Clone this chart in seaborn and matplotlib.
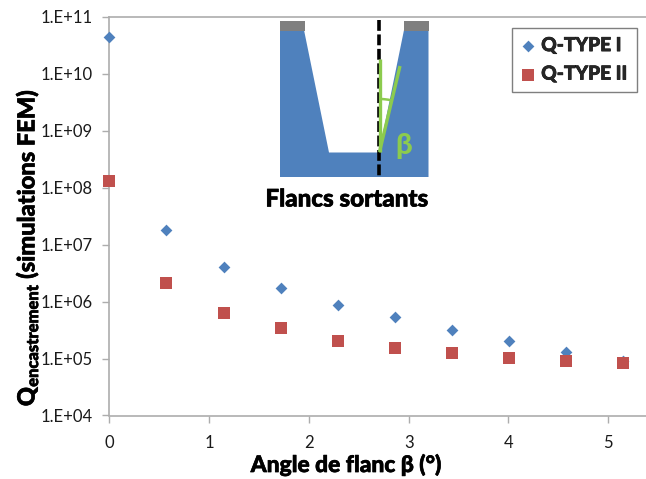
import matplotlib
matplotlib.use("Agg")
import matplotlib.pyplot as plt
import matplotlib.patheffects as pe
from matplotlib.patches import Polygon, Rectangle, Arc
from matplotlib.ticker import FixedLocator, FixedFormatter, NullLocator
import pandas as pd
import seaborn as sns

angles = [0, 0.57, 1.145, 1.72, 2.29, 2.865, 3.44, 4.01, 4.58, 5.15]
q_type_1 = [4.5e10, 1.8e7, 4.1e6, 1.75e6, 8.7e5, 5.4e5, 3.2e5, 2.0e5, 1.28e5, 9.0e4]
q_type_2 = [1.3e8, 2.1e6, 6.2e5, 3.4e5, 2.05e5, 1.55e5, 1.26e5, 1.03e5, 9.1e4, 8.2e4]
x_ticks = [0, 1, 2, 3, 4, 5]
y_ticks = [1e4, 1e5, 1e6, 1e7, 1e8, 1e9, 1e10, 1e11]
y_labels = ["1.E+04", "1.E+05", "1.E+06", "1.E+07", "1.E+08", "1.E+09", "1.E+10", "1.E+11"]
series_names = ["Q-TYPE I", "Q-TYPE II"]

W, H = 646, 479
FONT = "Lato"
HEAVY = 900
sns.set_theme(style="white")
plt.rcParams["font.family"] = [FONT, "DejaVu Sans"]
plt.rcParams["mathtext.fontset"] = "custom"
plt.rcParams["mathtext.bf"] = f"{FONT}:weight=900"
plt.rcParams["mathtext.rm"] = FONT
BLUE, RED, AXIS, GREEN = "#4F81BD", "#C0504D", "#ADADAD", "#8CCB4E"
THICKEN = [pe.withStroke(linewidth=0.45, foreground="black")]

fig = plt.figure(figsize=(W / 100, H / 100), dpi=100, facecolor="white")
ax = fig.add_axes([109.5 / W, 1 - 415.5 / H, (W - 109.5) / W, (415.5 - 17) / H])

df = pd.DataFrame({
    "angle": angles * 2,
    "q": q_type_1 + q_type_2,
    "series": [series_names[0]] * len(angles) + [series_names[1]] * len(angles),
})
sns.scatterplot(data=df[df.series == series_names[0]], x="angle", y="q", ax=ax, marker="D",
                color=BLUE, s=36, linewidth=0, clip_on=False, zorder=3, label=series_names[0])
sns.scatterplot(data=df[df.series == series_names[1]], x="angle", y="q", ax=ax, marker="s",
                color=RED, s=66, linewidth=0, clip_on=False, zorder=4, label=series_names[1])

ax.set_yscale("log")
ax.set_xlim(0, (W - 109.5) / 99.7)
ax.set_ylim(1e4, 1e11)
ax.xaxis.set_major_locator(FixedLocator(x_ticks))
ax.yaxis.set_major_locator(FixedLocator(y_ticks))
ax.yaxis.set_major_formatter(FixedFormatter(y_labels))
ax.yaxis.set_minor_locator(NullLocator())
ax.tick_params(axis="both", length=5, width=1, color=AXIS, labelsize=12, labelcolor="#1a1a1a", pad=7, left=True, bottom=True)
ax.tick_params(axis="x", pad=9)
for name in ("left", "bottom", "top"):
    ax.spines[name].set_color(AXIS)
    ax.spines[name].set_linewidth(1.2)
ax.spines["right"].set_visible(False)
ax.set_xlabel("")
ax.set_ylabel("")

fig.text(346 / W, 1 - 465 / H, "Angle de flanc β (°)", fontsize=16.4, fontweight=HEAVY, ha="center", va="center",
         color="black", path_effects=THICKEN)
fig.text(27 / W, 1 - 247.5 / H, r"$\mathbf{Q_{encastrement}}$ (simulations FEM)", fontsize=17, fontweight=HEAVY,
         rotation=90, ha="center", va="center", color="black", path_effects=THICKEN)

handles, labels = ax.get_legend_handles_labels()
leg = ax.legend(handles, labels, loc="upper left", bbox_to_anchor=((511.5 - 109.5) / (W - 109.5), 1 - (27.5 - 17) / (415.5 - 17)),
                fancybox=False, framealpha=1, edgecolor="#7F7F7F", borderpad=0.5, labelspacing=0.6,
                handlelength=0.75, handletextpad=0.3, prop={"family": FONT, "weight": HEAVY, "size": 13.8}, borderaxespad=0)
leg.get_frame().set_linewidth(1)
for t in leg.get_texts():
    t.set_path_effects(THICKEN)

# inset schematic, drawn on an overlay in pixel coordinates
ov = fig.add_axes([0, 0, 1, 1], facecolor="none")
ov.set_xlim(0, W)
ov.set_ylim(H, 0)
ov.axis("off")
ov.add_patch(Polygon([(280, 30), (304, 30), (329, 152.5), (379, 152.5), (404, 30), (428.5, 30), (428.5, 177), (280, 177)],
                     closed=True, facecolor=BLUE, edgecolor="none"))
ov.add_patch(Rectangle((279.5, 20.5), 25, 10, facecolor="#7F7F7F", edgecolor="none"))
ov.add_patch(Rectangle((404, 20.5), 25, 10, facecolor="#7F7F7F", edgecolor="none"))
ov.plot([379, 379], [20, 178], color="black", lw=2.6, ls=(0, (3.0, 1.0)), zorder=3)
ov.plot([379.5, 379.5], [152, 59], color=GREEN, lw=2.4, zorder=4, solid_capstyle="butt")
ov.plot([379.5, 400], [152, 66], color=GREEN, lw=2.4, zorder=4, solid_capstyle="butt")
ov.add_patch(Arc((379.5, 152), 106, 106, theta1=-90, theta2=-77, color=GREEN, lw=1.8, zorder=4))
ov.text(404, 146, "β", color=GREEN, fontsize=21, fontweight=HEAVY, ha="center", va="center", zorder=5)
ov.text(347, 199, "Flancs sortants", color="black", fontsize=17.4, fontweight=HEAVY, ha="center", va="center",
        path_effects=THICKEN)

fig.savefig("out.png", dpi=100, facecolor="white")
